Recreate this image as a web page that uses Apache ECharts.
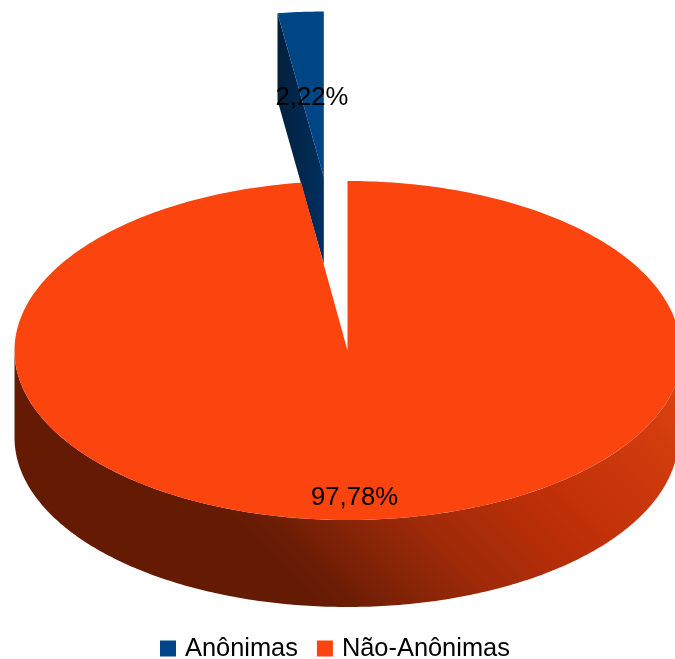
<!DOCTYPE html>
<html><head><meta charset="utf-8">
<style>html,body{margin:0;padding:0;background:#fff}#c{width:675px;height:659px}</style>
<script src="https://cdn.jsdelivr.net/npm/echarts@6/dist/echarts.min.js"></script>
</head><body><div id="c"></div>
<script>
const categories = ['Anônimas', 'Não-Anônimas'];
const shares = [2.22, 97.78];
const labels = ['2,22%', '97,78%'];

const total = shares.reduce((a, b) => a + b, 0);
const sweep = shares.map(v => v / total * 2 * Math.PI);
const FONT = '"Liberation Sans", Arial, sans-serif';
const cx = 347.5, cy = 350.5, rx = 333, ry = 169.5, depth = 87;
const inFrontRight = a => a > Math.PI / 2 && a < Math.PI;
const pt = (a, dx, dy, rxx, ryy) => [cx + dx + (rxx || rx) * Math.sin(a), cy + dy - (ryy || ry) * Math.cos(a)];
const arc = (a0, a1, dx, dy, n, rxOf, ryy) => {
  const out = [];
  for (let i = 0; i <= n; i++) {
    const a = a0 + (a1 - a0) * i / n;
    out.push(pt(a, dx, dy, rxOf ? rxOf(a) : rx, ryy));
  }
  return out;
};
const poly = (points, fill) => ({ type: 'polygon', shape: { points }, style: { fill } });
const txt = (text, x, y) => ({
  type: 'text', z2: 50,
  style: { text, x, y, font: '25.7px ' + FONT, fill: '#000', align: 'center', verticalAlign: 'middle' }
});
const topRx = a => inFrontRight(a) ? 335 : rx;
const bottomRx = a => inFrontRight(a) ? 331 : rx;

function renderBlue() {
  const dx = -23.7, dy = -173.5, ryy = ry * 0.976;
  const a0 = -sweep[0], a1 = 0;
  const p0 = pt(a0, dx, dy, rx, ryy), apex = [cx + dx, cy + dy];
  const side = [p0, apex, [apex[0], apex[1] + depth], [p0[0], p0[1] + depth]];
  const g = new echarts.graphic.LinearGradient(p0[0], 0, apex[0], 0,
    [{ offset: 0, color: '#03203d' }, { offset: 1, color: '#012f5e' }], true);
  return { type: 'group', children: [
    poly(side, g),
    poly(arc(a0, a1, dx, dy, 12, null, ryy).concat([apex]), '#004586')
  ] };
}
function renderOrange() {
  const a0 = 0, a1 = sweep[1];
  const front = arc(Math.PI / 2, 3 * Math.PI / 2, 0, 0, 240, topRx);
  const bottom = arc(3 * Math.PI / 2, Math.PI / 2, 0, depth, 240, bottomRx);
  const g = new echarts.graphic.LinearGradient(318, 608, 598, 328, [
    { offset: 0, color: '#651a04' },
    { offset: 0.07, color: '#6c1d05' },
    { offset: 0.19, color: '#842407' },
    { offset: 0.34, color: '#a02a08' },
    { offset: 0.62, color: '#c03008' },
    { offset: 1, color: '#d8400f' }
  ], true);
  return { type: 'group', children: [
    poly(front.concat(bottom), g),
    poly(arc(a0, a1, 0, 0, 360, topRx).concat([[cx, cy]]), '#fc440f')
  ] };
}

const chart = echarts.init(document.getElementById('c'), null, { renderer: 'canvas' });
chart.setOption({
  animation: false,
  backgroundColor: '#fff',
  legend: {
    data: categories, left: 160, top: 636, padding: 0, icon: 'rect',
    itemWidth: 16, itemHeight: 16, itemGap: 19, selectedMode: false,
    textStyle: { fontFamily: FONT, fontSize: 25.4, color: '#000', padding: [0, 0, 0, 4] }
  },
  series: [
    { type: 'custom', name: categories[0], coordinateSystem: 'none', z: 1, silent: true,
      itemStyle: { color: '#004586' }, data: [shares[0]], renderItem: renderBlue },
    { type: 'custom', name: categories[1], coordinateSystem: 'none', z: 2, silent: true,
      itemStyle: { color: '#fc440f' }, data: [shares[1]], renderItem: renderOrange },
    { type: 'custom', name: 'labels', coordinateSystem: 'none', z: 3, silent: true,
      data: [0], renderItem: () => ({ type: 'group', children: [
        txt(labels[0], 312, 98), txt(labels[1], 354.5, 498)
      ] }) }
  ]
});
</script></body></html>
